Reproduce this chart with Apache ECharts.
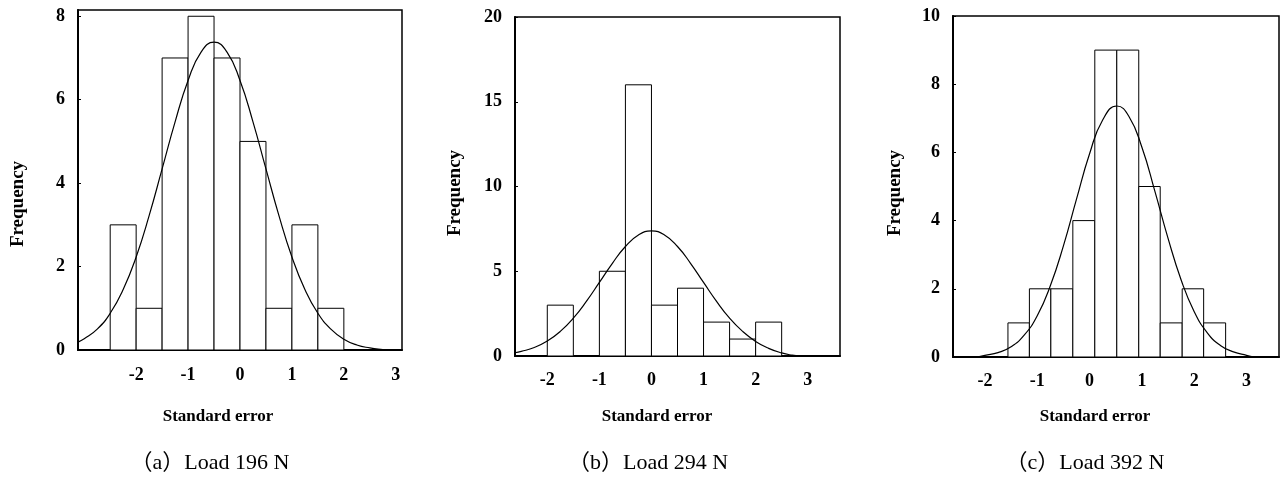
<!DOCTYPE html>
<html>
<head>
<meta charset="utf-8">
<script src="https://cdn.jsdelivr.net/npm/echarts@6/dist/echarts.min.js"></script>
<style>
html,body{margin:0;padding:0;background:#fff;}
#chart{width:1285px;height:479px;}
</style>
</head>
<body>
<div id="chart"></div>
<script>
// ---------- data ----------
// Panel (a) Load 196 N
const edgesA = [-2.5, -2.0, -1.5, -1.0, -0.5, 0.0, 0.5, 1.0, 1.5, 2.0];
const countsA = [3, 1, 7, 8, 7, 5, 1, 3, 1];
const curveXA = [-3.12, -3.0, -2.75, -2.5, -2.25, -2.0, -1.75, -1.5, -1.25, -1.0, -0.75, -0.5, -0.25, 0.0, 0.25, 0.5, 0.75, 1.0, 1.25, 1.5, 1.75, 2.0, 2.25, 2.5, 2.75, 2.85];
const curveYA = [0.19, 0.27, 0.50, 0.88, 1.45, 2.23, 3.22, 4.34, 5.47, 6.46, 7.14, 7.38, 7.14, 6.46, 5.47, 4.34, 3.22, 2.23, 1.45, 0.88, 0.50, 0.26, 0.12, 0.05, 0.01, 0.0];

// Panel (b) Load 294 N
const edgesB = [-2.0, -1.5, -1.0, -0.5, 0.0, 0.5, 1.0, 1.5, 2.0, 2.5];
const countsB = [3, 0, 5, 16, 3, 4, 2, 1, 2];
const curveXB = [-2.62, -2.5, -2.25, -2.0, -1.75, -1.5, -1.25, -1.0, -0.75, -0.5, -0.25, 0.0, 0.25, 0.5, 0.75, 1.0, 1.25, 1.5, 1.75, 2.0, 2.25, 2.5, 2.7, 2.85];
const curveYB = [0.19, 0.27, 0.50, 0.88, 1.45, 2.23, 3.22, 4.34, 5.47, 6.46, 7.14, 7.38, 7.14, 6.46, 5.47, 4.34, 3.22, 2.23, 1.45, 0.86, 0.45, 0.18, 0.05, 0.0];

// Panel (c) Load 392 N
const edgesC = [-1.56, -1.15, -0.74, -0.32, 0.10, 0.52, 0.94, 1.35, 1.77, 2.18, 2.60];
const countsC = [1, 2, 2, 4, 9, 9, 5, 1, 2, 1];
const curveXC = [-2.15, -2.0, -1.75, -1.5, -1.25, -1.0, -0.75, -0.5, -0.25, 0.0, 0.25, 0.52, 0.75, 1.0, 1.25, 1.5, 1.75, 2.0, 2.25, 2.5, 2.75, 3.0, 3.15];
const curveYC = [0.0, 0.05, 0.13, 0.30, 0.64, 1.21, 2.09, 3.26, 4.63, 5.96, 6.95, 7.36, 7.06, 6.15, 4.85, 3.48, 2.26, 1.33, 0.71, 0.34, 0.15, 0.05, 0.0];

// axis ticks
const xTicks = [-2, -1, 0, 1, 2, 3];
const yTicksA = [0, 2, 4, 6, 8];
const yTicksB = [0, 5, 10, 15, 20];
const yTicksC = [0, 2, 4, 6, 8, 10];

const xTitle = 'Standard error';
const yTitle = 'Frequency';
const captions = ['（a）Load 196 N', '（b）Load 294 N', '（c）Load 392 N'];

// ---------- build ----------
const serif = '"Liberation Serif", "DejaVu Serif", serif';
const panels = [
  {grid: {left: 78, top: 10, width: 324, height: 340}, xr: [-3.12, 3.12], ymax: 8.15, yt: yTicksA, edges: edgesA, counts: countsA, cx: curveXA, cy: curveYA, lm: 16,
   xt: {x: 218, y: 417}, yt2: {x: 18, y: 204}, cap: {x: 210, y: 463}},
  {grid: {left: 515, top: 17, width: 325, height: 339}, xr: [-2.62, 3.62], ymax: 20, yt: yTicksB, edges: edgesB, counts: countsB, cx: curveXB, cy: curveYB, lm: 15,
   xt: {x: 657, y: 417}, yt2: {x: 455, y: 193}, cap: {x: 648, y: 463}},
  {grid: {left: 953, top: 16, width: 326, height: 341}, xr: [-2.61, 3.62], ymax: 10, yt: yTicksC, edges: edgesC, counts: countsC, cx: curveXC, cy: curveYC, lm: 15,
   xt: {x: 1095, y: 417}, yt2: {x: 895, y: 193}, cap: {x: 1085, y: 463}}
];

const option = {
  backgroundColor: '#fff',
  animation: false,
  grid: [], xAxis: [], yAxis: [], series: []
};

panels.forEach((p, i) => {
  option.grid.push(Object.assign({show: true, borderColor: '#000', borderWidth: 1.5, backgroundColor: 'transparent'}, p.grid));
  option.xAxis.push({
    type: 'value', gridIndex: i, min: p.xr[0], max: p.xr[1],
    axisLine: {show: true, onZero: false, lineStyle: {color: '#000', width: 2}},
    axisTick: {show: false, customValues: xTicks},
    splitLine: {show: false},
    axisLabel: {customValues: xTicks, margin: p.lm, color: '#000', fontFamily: serif, fontWeight: 'bold', fontSize: 18}
  });
  option.yAxis.push({
    type: 'value', gridIndex: i, min: 0, max: p.ymax,
    axisLine: {show: true, onZero: false, lineStyle: {color: '#000', width: 2}},
    axisTick: {show: true, inside: true, length: 3, customValues: p.yt, lineStyle: {color: '#000'}},
    splitLine: {show: false},
    axisLabel: {customValues: p.yt, margin: 13, color: '#000', fontFamily: serif, fontWeight: 'bold', fontSize: 18}
  });
  const bars = [];
  for (let k = 0; k < p.counts.length; k++) {
    if (p.counts[k] > 0) bars.push([p.edges[k], p.edges[k + 1], p.counts[k]]);
  }
  option.series.push({
    type: 'custom', xAxisIndex: i, yAxisIndex: i, data: bars,
    encode: {x: [0, 1], y: 2},
    renderItem: function (params, api) {
      const a = api.coord([api.value(0), api.value(2)]);
      const b = api.coord([api.value(1), 0]);
      return {type: 'rect', shape: {x: a[0], y: a[1], width: b[0] - a[0], height: b[1] - a[1]},
        style: {fill: '#fff', stroke: '#000', lineWidth: 1}};
    },
    z: 2
  });
  option.series.push({
    type: 'line', xAxisIndex: i, yAxisIndex: i,
    data: p.cx.map((x, k) => [x, p.cy[k]]),
    smooth: true, showSymbol: false, symbol: 'none',
    lineStyle: {color: '#000', width: 1.2}, z: 3
  });
});

const g = [];
panels.forEach((p, i) => {
  g.push({type: 'text', x: p.xt.x, y: p.xt.y, style: {text: xTitle, font: 'bold 17px ' + serif, fill: '#000', align: 'center', verticalAlign: 'middle'}});
  g.push({type: 'text', x: p.yt2.x, y: p.yt2.y, rotation: Math.PI / 2, style: {text: yTitle, font: 'bold 19px ' + serif, fill: '#000', align: 'center', verticalAlign: 'middle'}});
  g.push({type: 'text', x: p.cap.x, y: p.cap.y, style: {text: captions[i], font: '22px ' + serif + ', "Noto Sans CJK SC"', fill: '#000', align: 'center', verticalAlign: 'middle'}});
});
option.graphic = g;

const chart = echarts.init(document.getElementById('chart'), null, {renderer: 'canvas'});
chart.setOption(option);
</script>
</body>
</html>
